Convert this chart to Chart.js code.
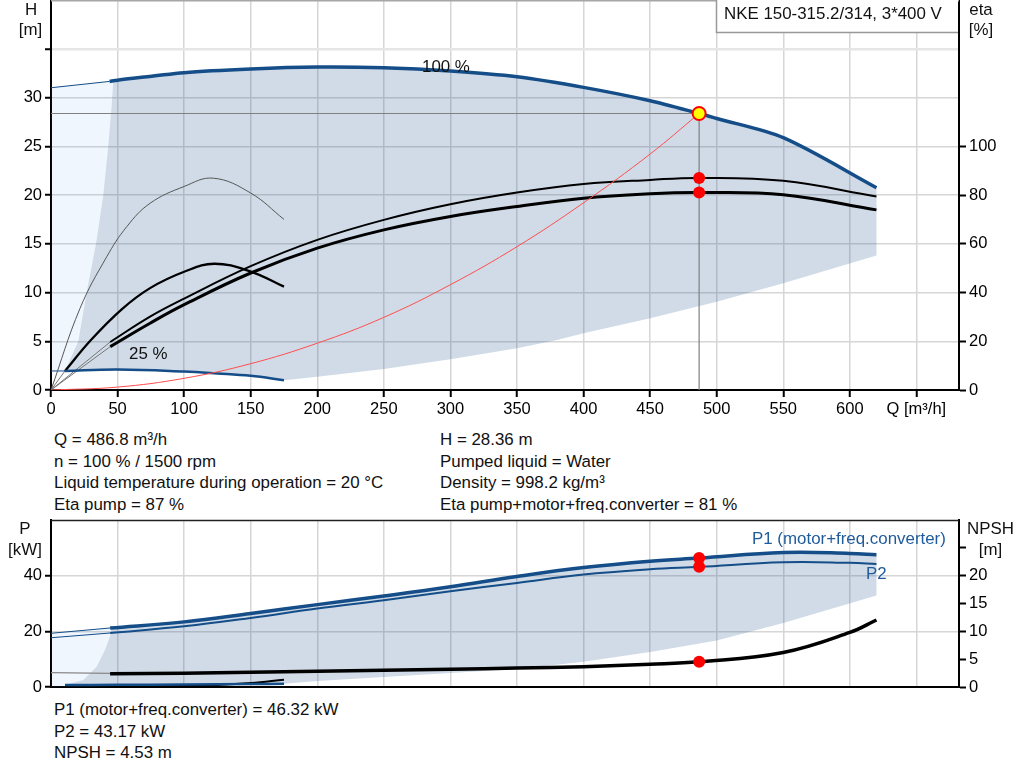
<!DOCTYPE html>
<html>
<head>
<meta charset="utf-8">
<script src="https://cdn.jsdelivr.net/npm/chart.js@4.4.1/dist/chart.umd.min.js"></script>
<style>
  body { margin: 0; background: #fff; }
  #wrap { position: relative; width: 1024px; height: 781px; overflow: hidden; font-family: 'Liberation Sans', Arial, sans-serif; }
  canvas { position: absolute; left: 0; }
  #top { top: 0; }
  #bot { top: 505px; }
  .info { position: absolute; font-size: 16.9px; line-height: 21.67px; color: #111; white-space: nowrap; }
</style>
</head>
<body>
<div id="wrap">
  <canvas id="top" width="1024" height="425"></canvas>
  <div class="info" style="left:54px; top:429px">Q = 486.8 m³/h<br>n = 100 % / 1500 rpm<br>Liquid temperature during operation = 20 °C<br>Eta pump = 87 %</div>
  <div class="info" style="left:440px; top:429px">H = 28.36 m<br>Pumped liquid = Water<br>Density = 998.2 kg/m³<br>Eta pump+motor+freq.converter = 81 %</div>
  <canvas id="bot" width="1024" height="190"></canvas>
  <div class="info" style="left:54px; top:699px">P1 (motor+freq.converter) = 46.32 kW<br>P2 = 43.17 kW<br>NPSH = 4.53 m</div>
</div>
<script>
// ---------- head, H [m] over Q [m³/h] ----------
const qHead100 = [44, 50, 100, 150, 200, 250, 300, 350, 400, 450, 486.8, 500, 550, 620];
const head100 = [31.65, 31.78, 32.55, 32.93, 33.12, 33.05, 32.72, 32.13, 31.04, 29.67, 28.36, 27.85, 25.88, 20.75];
const qHead100Ext = [0, 44];
const head100Ext = [31.0, 31.65];
const qHead25 = [10.5, 50, 100, 125, 150, 175];
const head25 = [1.95, 2.1, 1.9, 1.7, 1.45, 1.0];
const qHead25Ext = [0, 10.5];
const head25Ext = [1.95, 1.95];

// system curve to the duty point
const qSystem = [0, 50, 100, 150, 200, 250, 300, 350, 400, 450, 486.8];
const headSystem = [0, 0.3, 1.2, 2.7, 4.8, 7.45, 10.8, 14.7, 19.2, 24.2, 28.36];

// ---------- efficiency, eta [%] ----------
const qEta = [44.5, 74.4, 100, 150, 200, 250, 300, 350, 400, 450, 486.8, 550, 620];
const etaPump = [19.7, 30.1, 37.5, 50.8, 61.6, 69.8, 76.2, 81.0, 84.5, 86.2, 87, 85.8, 79.4];
const etaTotal = [17.8, 27.4, 35.0, 48.0, 58.2, 65.7, 71.2, 75.3, 78.7, 80.5, 81, 80.1, 73.9];
const qEtaPump25 = [0, 21.8, 41.9, 56.9, 74.4, 100, 122, 150, 175];
const etaPump25 = [0, 33.5, 54.7, 67, 76.6, 83.5, 86.9, 80.8, 70];
const qEtaTotal25 = [10.5, 30, 53.1, 74.4, 100, 122.6, 150, 175];
const etaTotal25 = [7.8, 20.5, 33.1, 41.8, 48.5, 51.8, 48.6, 42.4];

// operating range (head), outline going round
const qRange = [46.8, 50, 100, 150, 200, 250, 300, 350, 400, 450, 486.8, 500, 550, 620,
  620, 550, 500, 450, 400, 380, 350, 300, 250, 200, 175, 150, 125, 100, 50, 10.5,
  20.5, 26.8, 33.8, 39.3, 43, 45.5, 46.8];
const headRange = [31.7, 31.78, 32.55, 32.93, 33.12, 33.05, 32.72, 32.13, 31.04, 29.67, 28.36, 27.85, 25.88, 20.75,
  13.8, 10.94, 9.06, 7.35, 5.81, 5.13, 4.28, 3.15, 2.15, 1.37, 1.0, 1.45, 1.7, 1.9, 2.1, 1.95,
  5, 10, 15, 20, 25, 29, 31.7];
const qRangeLow = [0, 0, 44, 46.8, 45.5, 43, 39.3, 33.8, 26.8, 20.5, 10.5, 0];
const headRangeLow = [1.95, 31.0, 31.65, 31.7, 29, 25, 20, 15, 10, 5, 1.95, 1.95];

// ---------- power P [kW] and NPSH [m] ----------
const qPower = [44.4, 100, 150, 200, 250, 300, 350, 400, 450, 486.8, 550, 600, 620];
const powerP1 = [21.2, 23.4, 26.4, 29.6, 32.7, 36.0, 39.7, 42.9, 45.2, 46.32, 48.3, 48.0, 47.5];
const powerP2 = [19.4, 21.8, 24.8, 28.2, 31.2, 34.4, 37.4, 40.4, 42.3, 43.17, 44.8, 44.6, 44.2];
const qPowerExt = [0, 44.4];
const powerP1Ext = [19.3, 21.2];
const powerP2Ext = [17.7, 19.4];
const qPower25 = [10.5, 50, 100, 150, 175];
const powerP1_25 = [0.7, 0.8, 0.9, 1.05, 1.2];

const qNpsh = [44.4, 100, 200, 300, 350, 400, 450, 486.8, 550, 600, 620];
const npsh = [2.4, 2.47, 2.85, 3.2, 3.4, 3.65, 4.08, 4.53, 6.2, 9.8, 12.04];
const qNpshExt = [0, 44.4];
const npshExt = [2.57, 2.45];
const qNpsh25 = [10.5, 50, 100, 125, 150, 175];
const npsh25 = [0.05, 0.08, 0.2, 0.35, 0.7, 1.3];

const qPowerRange = [45.6, 100, 150, 200, 250, 300, 350, 400, 450, 486.8, 550, 600, 620,
  620, 550, 500, 450, 400, 350, 300, 250, 200, 175, 150, 100, 50, 10.5,
  24.3, 34.3, 40.6, 44.4, 45.6];
const powerRange = [21.25, 23.4, 26.4, 29.6, 32.7, 36.0, 39.7, 42.9, 45.2, 46.32, 48.3, 48.0, 47.5,
  32.9, 23.0, 16.7, 12.6, 9.1, 6.5, 5.0, 3.6, 2.2, 1.2, 1.05, 0.9, 0.8, 0.7,
  2.5, 7.3, 13.4, 18.2, 21.25];
const qPowerRangeLow = [0, 0, 44.4, 45.6, 44.4, 40.6, 34.3, 24.3, 10.5, 10.5, 0];
const powerRangeLow = [0, 19.3, 21.2, 21.25, 18.2, 13.4, 7.3, 2.5, 0.7, 0, 0];

// duty point
const dutyQ = 486.8;
const dutyH = 28.36;
const dutyEtaPump = 87;
const dutyEtaTotal = 81;
const dutyP1 = 46.32;
const dutyP2 = 43.17;
const dutyNpsh = 4.53;

// ticks
const qTicksMax = 650;
const headTicksMax = 35;
const etaTicksMax = 100;
const powerTicksMax = 40;
const npshTicksMax = 25;

const BLUE = '#144d88';
const SHADE = 'rgba(22,75,135,0.2)';
const SHADE_LIGHT = 'rgba(60,140,240,0.08)';
const FONT = "'Liberation Sans', Arial, sans-serif";

Chart.defaults.font.family = FONT;
Chart.defaults.font.size = 16.5;
Chart.defaults.color = '#000';

const pts = (xs, ys) => xs.map((x, i) => ({x: x, y: ys[i]}));

function curve(xs, ys, color, width, axis, tension) {
  return {data: pts(xs, ys), borderColor: color, borderWidth: width, yAxisID: axis,
    pointRadius: 0, fill: false, tension: tension === undefined ? 0.4 : tension, order: 5};
}
function straight(xs, ys, color, width, axis) {
  return {data: pts(xs, ys), borderColor: color, borderWidth: width, yAxisID: axis,
    pointRadius: 0, fill: false, tension: 0, order: 7};
}
function area(xs, ys, color, axis) {
  return {data: pts(xs, ys), borderWidth: 0, backgroundColor: color, fill: 'shape',
    yAxisID: axis, pointRadius: 0, tension: 0, order: 10};
}
function dot(x, y, axis, fillColor) {
  return {data: [{x: x, y: y}], showLine: false, yAxisID: axis, order: 0,
    pointRadius: fillColor ? 6.5 : 6, pointBackgroundColor: fillColor || '#ff0000',
    pointBorderColor: '#ff0000', pointBorderWidth: fillColor ? 2 : 0};
}

// fix the axis box sizes so the plot sits where the reference has it
function fix(prop, v) {
  return function (s) {
    s[prop] = v;
    s.paddingTop = 0; s.paddingBottom = 0; s.paddingLeft = 0; s.paddingRight = 0;
  };
}
function upTo(max) {
  return function (s) { s.ticks = s.ticks.filter(t => t.value <= max); };
}
const gridStyle = {color: '#d6d6d6', lineWidth: 1.5, tickColor: '#000', tickWidth: 2};

function label(ctx, text, x, y, align, color) {
  ctx.fillStyle = color || '#111';
  ctx.font = '16.9px ' + FONT;
  ctx.textAlign = align || 'left';
  ctx.textBaseline = 'middle';
  ctx.fillText(text, x, y);
}

const topDecor = {
  id: 'topDecor',
  afterDraw(chart) {
    const {ctx, chartArea: a} = chart;
    ctx.save();
    ctx.strokeStyle = '#a6a6a6';
    ctx.lineWidth = 1.5;
    ctx.beginPath();
    ctx.moveTo(a.left, a.top + 0.75);
    ctx.lineTo(a.right, a.top + 0.75);
    ctx.stroke();
    // type box
    ctx.fillStyle = '#fff';
    ctx.fillRect(716, 0, a.right - 717, 32.5);
    ctx.strokeStyle = '#999';
    ctx.beginPath();
    ctx.moveTo(716.5, 0);
    ctx.lineTo(716.5, 32.5);
    ctx.lineTo(a.right - 1, 32.5);
    ctx.stroke();
    label(ctx, 'NKE 150-315.2/314, 3*400 V', 724, 14);
    label(ctx, '100 %', 422, 67);
    label(ctx, '25 %', 129, 354);
    label(ctx, 'H', 31, 10, 'center');
    label(ctx, '[m]', 30.5, 30, 'center');
    label(ctx, 'eta', 981, 10, 'center');
    label(ctx, '[%]', 981, 30, 'center');
    ctx.restore();
  }
};

const botDecor = {
  id: 'botDecor',
  afterDraw(chart) {
    const {ctx, chartArea: a} = chart;
    ctx.save();
    ctx.strokeStyle = '#222';
    ctx.lineWidth = 1.5;
    ctx.beginPath();
    ctx.moveTo(a.left, a.top + 0.5);
    ctx.lineTo(a.right, a.top + 0.5);
    ctx.stroke();
    label(ctx, 'P', 25, 24, 'center');
    label(ctx, '[kW]', 25, 45, 'center');
    label(ctx, 'NPSH', 990.5, 24, 'center');
    label(ctx, '[m]', 990.5, 45, 'center');
    label(ctx, 'P1 (motor+freq.converter)', 752, 34, 'left', '#1f5b9a');
    label(ctx, 'P2', 866, 69, 'left', '#1f5b9a');
    ctx.restore();
  }
};

new Chart(document.getElementById('top'), {
  type: 'line',
  data: {
    datasets: [
      area(qRange, headRange, SHADE, 'y'),
      area(qRangeLow, headRangeLow, SHADE_LIGHT, 'y'),
      straight([0, dutyQ], [dutyH, dutyH], '#808080', 1.2, 'y'),
      straight([dutyQ, dutyQ], [0, dutyH], '#808080', 1.2, 'y'),
      curve(qSystem, headSystem, '#ff4d4d', 1, 'y'),
      straight(qHead100Ext, head100Ext, BLUE, 1, 'y'),
      straight(qHead25Ext, head25Ext, BLUE, 1, 'y'),
      curve(qHead100, head100, BLUE, 3.5, 'y', 0.3),
      curve(qHead25, head25, BLUE, 2.5, 'y'),
      straight([0, qEta[0]], [0, etaPump[0]], '#777', 1, 'yEta'),
      straight([0, qEta[0]], [0, etaTotal[0]], '#777', 1, 'yEta'),
      straight([0, qEtaTotal25[0]], [0, etaTotal25[0]], '#777', 1, 'yEta'),
      curve(qEtaPump25, etaPump25, '#555', 1, 'yEta'),
      curve(qEtaTotal25, etaTotal25, '#000', 2.3, 'yEta'),
      curve(qEta, etaPump, '#000', 2, 'yEta'),
      curve(qEta, etaTotal, '#000', 3, 'yEta'),
      dot(dutyQ, dutyEtaPump, 'yEta'),
      dot(dutyQ, dutyEtaTotal, 'yEta'),
      dot(dutyQ, dutyH, 'y', '#ffff00')
    ]
  },
  options: {
    responsive: false,
    animation: false,
    devicePixelRatio: 1,
    events: [],
    layout: {padding: 0, autoPadding: false},
    plugins: {legend: {display: false}, tooltip: {enabled: false}},
    scales: {
      x: {
        type: 'linear', min: 0, max: 682,
        afterFit: fix('height', 35),
        afterBuildTicks: upTo(qTicksMax),
        ticks: {stepSize: 50, includeBounds: false, autoSkip: false, maxRotation: 0, padding: 3,
          callback: v => v === qTicksMax ? 'Q [m³/h]' : String(v)},
        grid: Object.assign({}, gridStyle, {tickLength: 7}),
        border: {color: '#000', width: 2}
      },
      y: {
        position: 'left', min: 0, max: 40,
        afterFit: fix('width', 51),
        afterBuildTicks: upTo(headTicksMax),
        ticks: {stepSize: 5, includeBounds: false, padding: 3,
          callback: v => v > 30 ? '' : String(v)},
        grid: Object.assign({}, gridStyle, {
          tickLength: 6,
          color: c => c.tick && c.tick.value === headTicksMax ? '#e6e6e6' : '#d6d6d6',
          lineWidth: c => c.tick && c.tick.value === headTicksMax ? 2.5 : 1.5
        }),
        border: {color: '#000', width: 2}
      },
      yEta: {
        position: 'right', min: 0, max: 160,
        afterFit: fix('width', 65),
        afterBuildTicks: upTo(etaTicksMax),
        ticks: {stepSize: 20, includeBounds: false, padding: 3},
        grid: {drawOnChartArea: false, tickLength: 7, tickColor: '#000', tickWidth: 2},
        border: {color: '#000', width: 2}
      }
    }
  },
  plugins: [topDecor]
});

new Chart(document.getElementById('bot'), {
  type: 'line',
  data: {
    datasets: [
      area(qPowerRange, powerRange, SHADE, 'y'),
      area(qPowerRangeLow, powerRangeLow, SHADE_LIGHT, 'y'),
      straight(qPowerExt, powerP1Ext, BLUE, 1, 'y'),
      straight(qPowerExt, powerP2Ext, BLUE, 1, 'y'),
      straight(qNpshExt, npshExt, '#888', 1.2, 'yN'),
      curve(qPower25, powerP1_25, BLUE, 2.5, 'y'),
      curve(qNpsh25, npsh25, '#000', 2, 'yN'),
      curve(qPower, powerP1, BLUE, 3.5, 'y'),
      curve(qPower, powerP2, BLUE, 2, 'y'),
      curve(qNpsh, npsh, '#000', 3.5, 'yN'),
      dot(dutyQ, dutyP1, 'y'),
      dot(dutyQ, dutyP2, 'y'),
      dot(dutyQ, dutyNpsh, 'yN')
    ]
  },
  options: {
    responsive: false,
    animation: false,
    devicePixelRatio: 1,
    events: [],
    layout: {padding: {top: 15, left: 0, right: 0, bottom: 0}, autoPadding: false},
    plugins: {legend: {display: false}, tooltip: {enabled: false}},
    scales: {
      x: {
        type: 'linear', min: 0, max: 682,
        afterFit: fix('height', 8),
        afterBuildTicks: upTo(qTicksMax),
        ticks: {stepSize: 50, includeBounds: false, display: false},
        grid: Object.assign({}, gridStyle, {drawTicks: false}),
        border: {color: '#000', width: 2}
      },
      y: {
        position: 'left', min: 0, max: 60,
        afterFit: fix('width', 51),
        afterBuildTicks: upTo(powerTicksMax),
        ticks: {stepSize: 20, includeBounds: false, padding: 3},
        grid: Object.assign({}, gridStyle, {tickLength: 6}),
        border: {color: '#000', width: 2}
      },
      yN: {
        position: 'right', min: 0, max: 30,
        afterFit: fix('width', 65),
        afterBuildTicks: upTo(npshTicksMax),
        ticks: {stepSize: 5, includeBounds: false, padding: 3,
          callback: v => v >= npshTicksMax ? '' : String(v)},
        grid: {drawOnChartArea: false, tickLength: 7, tickColor: '#000', tickWidth: 2},
        border: {color: '#000', width: 2}
      }
    }
  },
  plugins: [botDecor]
});
</script>
</body>
</html>
